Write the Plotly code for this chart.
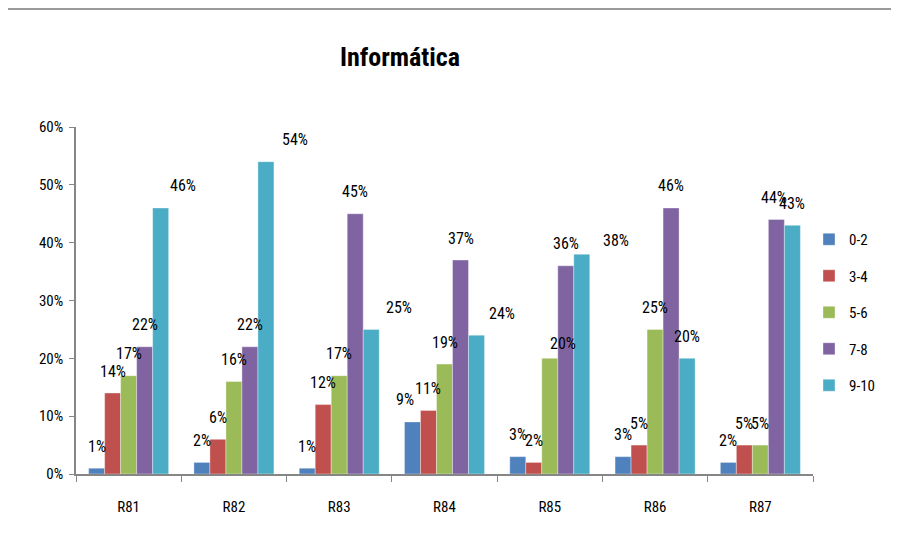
import plotly.graph_objects as go

categories = ["R81", "R82", "R83", "R84", "R85", "R86", "R87"]
series_names = ["0-2", "3-4", "5-6", "7-8", "9-10"]
s_0_2 = [1, 2, 1, 9, 3, 3, 2]
s_3_4 = [14, 6, 12, 11, 2, 5, 5]
s_5_6 = [17, 16, 17, 19, 20, 25, 5]
s_7_8 = [22, 22, 45, 37, 36, 46, 44]
s_9_10 = [46, 54, 25, 24, 38, 20, 43]
y_ticks = [0, 0.1, 0.2, 0.3, 0.4, 0.5, 0.6]

series_values = [s_0_2, s_3_4, s_5_6, s_7_8, s_9_10]
colors = ["#4F81BD", "#C0504D", "#9BBB59", "#8064A2", "#4BACC6"]

# label nudges (px) reproducing the manual label placement in the original
label_nudge = {
    ("R81", "9-10"): (22, 0), ("R82", "9-10"): (29, 0), ("R83", "9-10"): (28, 0),
    ("R84", "9-10"): (25, 0), ("R85", "9-10"): (34, -8), ("R85", "5-6"): (13, -7),
    ("R84", "0-2"): (-7, 0), ("R87", "7-8"): (-2, 0),
}

FONT = "Roboto Condensed, Liberation Sans Narrow, Arial Narrow, sans-serif"

# page is rendered with an 8px body margin, so figure is 8px smaller
W, H = 891, 525
L, T = 68, 119
R, B = W - 805, H - 466
plot_w = W - L - R
plot_h = H - T - B
bargap = 0.24
cat_px = plot_w / len(categories)
bar_px = cat_px * (1 - bargap) / len(series_names)

fig = go.Figure()
for name, vals, col in zip(series_names, series_values, colors):
    fig.add_trace(go.Bar(
        x=categories, y=[v / 100 for v in vals], name=name,
        marker=dict(color=col, line=dict(color="rgba(255,255,255,0.6)", width=0.6)),
        legendgroup=name,
    ))

annotations = []
for si, (name, vals) in enumerate(zip(series_names, series_values)):
    for c, v in zip(categories, vals):
        dx, dy = label_nudge.get((c, name), (0, 0))
        annotations.append(dict(
            x=c, y=v / 100, text=f"{v}%", showarrow=False,
            xshift=(si - 2) * bar_px + dx, yshift=22 + dy,
            xanchor="center", yanchor="middle",
            font=dict(family=FONT, size=16, color="#000000"),
        ))

fig.update_layout(
    width=W, height=H,
    margin=dict(l=L, r=R, t=T, b=B),
    paper_bgcolor="white", plot_bgcolor="white",
    barmode="group", bargap=bargap, bargroupgap=0,
    title=dict(text="<b>Informática</b>", x=392 / W, xanchor="center",
               y=1 - 49 / H, yanchor="middle",
               font=dict(family=FONT, size=26, color="#000000")),
    font=dict(family=FONT, size=15, color="#000000"),
    legend=dict(x=(801 - L) / plot_w, y=(466 - 215) / plot_h, xanchor="left", yanchor="top",
                font=dict(family=FONT, size=15), tracegroupgap=14, itemwidth=30,
                bgcolor="rgba(0,0,0,0)"),
    annotations=annotations,
    shapes=[dict(type="line", xref="paper", yref="paper",
                 x0=-L / plot_w, x1=(W - L) / plot_w,
                 y0=(466 - 1) / plot_h, y1=(466 - 1) / plot_h,
                 line=dict(color="#9a9a9a", width=2))],
)
fig.update_xaxes(showline=True, linecolor="#868686", linewidth=1.5, ticks="outside",
                 tickson="boundaries", ticklen=6, tickcolor="#868686",
                 ticklabelstandoff=18,
                 showgrid=False, tickfont=dict(family=FONT, size=15))
fig.update_yaxes(range=[0, 0.6], tickvals=y_ticks, tickformat=".0%", showline=True,
                 linecolor="#868686", linewidth=1.5, ticks="outside", ticklen=5,
                 tickcolor="#868686", showgrid=False, zeroline=False,
                 ticklabelstandoff=3,
                 tickfont=dict(family=FONT, size=15))

fig.write_html("out.html")
